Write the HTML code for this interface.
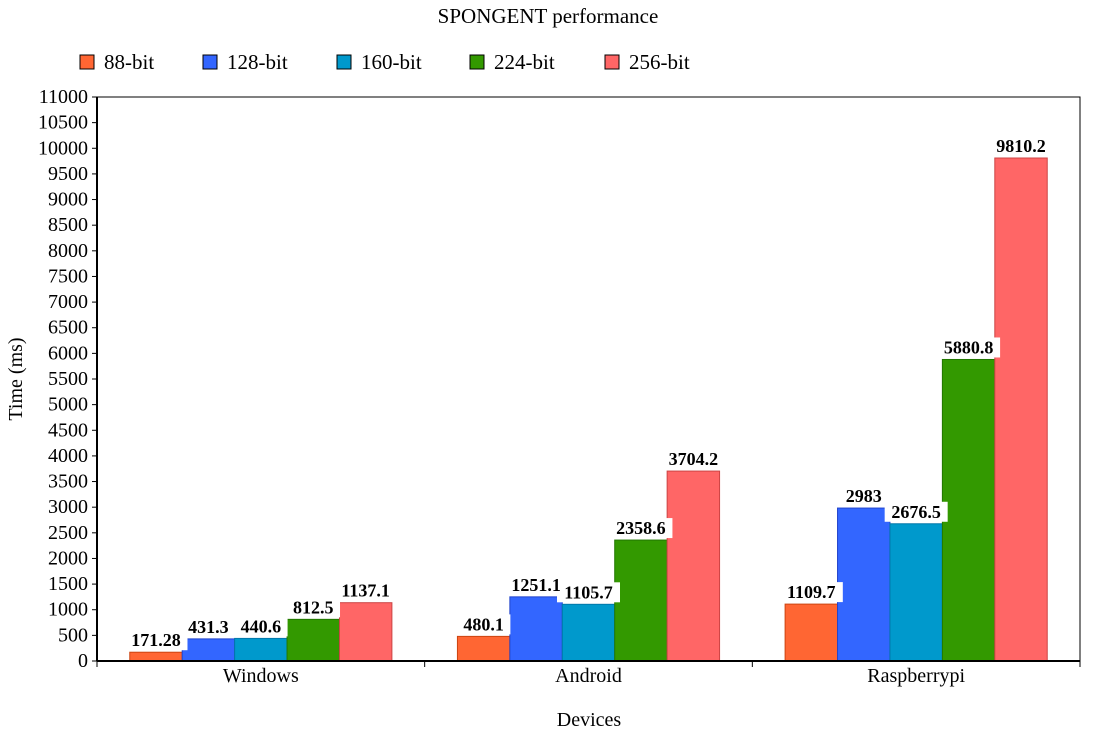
<!DOCTYPE html>
<html><head><meta charset="utf-8"><style>
body{margin:0;background:#fff;}
svg{display:block;font-family:"Liberation Serif",serif;}
</style></head><body>
<svg width="1095" height="744" id="c">
<text x="548" y="23" text-anchor="middle" font-size="21">SPONGENT performance</text>
<g id="legend"></g>
<g id="plot"></g>
<text transform="translate(22,379) rotate(-90)" text-anchor="middle" font-size="20">Time (ms)</text>
<text x="589" y="726" text-anchor="middle" font-size="20">Devices</text>
</svg>
<script>
const categories=["Windows","Android","Raspberrypi"];
const seriesNames=["88-bit","128-bit","160-bit","224-bit","256-bit"];
const s88=[171.28,480.1,1109.7];
const s128=[431.3,1251.1,2983];
const s160=[440.6,1105.7,2676.5];
const s224=[812.5,2358.6,5880.8];
const s256=[1137.1,3704.2,9810.2];
const yTicks=[0,500,1000,1500,2000,2500,3000,3500,4000,4500,5000,5500,6000,6500,7000,7500,8000,8500,9000,9500,10000,10500,11000];
const series=[s88,s128,s160,s224,s256];
const colors=["#ff6633","#3366ff","#0099cc","#339900","#ff6666"];
const strokes=["#cc4411","#2244cc","#0077aa","#227700","#cc4444"];
const NS="http://www.w3.org/2000/svg";
const L=97,R=1080,T=97,B=661,yMax=11000;
const y=v=>B-(v/yMax)*(B-T);
const cw=(R-L)/categories.length, bw=cw*0.8/series.length;
const x=(ci,si)=>L+ci*cw+cw*0.1+si*bw;
function mk(t,a,p){const e=document.createElementNS(NS,t);for(const k in a)e.setAttribute(k,a[k]);p.appendChild(e);return e;}
const plot=document.getElementById('plot');
yTicks.forEach(v=>{
 const t=mk('text',{x:88,y:y(v)+6,'text-anchor':'end','font-size':20},plot);
 
 
 t.textContent=v;
 const l=mk('line',{x1:92,x2:L,y1:y(v),y2:y(v),stroke:'#000'},plot);
 
 
});
series.forEach((s,si)=>s.forEach((v,ci)=>{
 const r=mk('rect',{x:x(ci,si),y:y(v),width:bw,height:B-y(v),fill:colors[si],stroke:strokes[si],'stroke-width':1},plot);
 
 
}));
series.forEach((s,si)=>s.forEach((v,ci)=>{
 const cx=x(ci,si)+bw/2;
 const w=String(v).length*9.5+6;
 const bg=mk('rect',{x:cx-w/2,y:y(v)-22,width:w,height:20,fill:'#fff'},plot);
 
 
}));
series.forEach((s,si)=>s.forEach((v,ci)=>{
 const cx=x(ci,si)+bw/2;
 const t=mk('text',{x:cx,y:y(v)-6,'text-anchor':'middle','font-size':18,'font-weight':'bold'},plot);
 
 
 t.textContent=String(v);
}));
const fr=mk('rect',{x:L,y:T,width:R-L,height:B-T,fill:'none',stroke:'#000','stroke-width':1},plot);


const ax=mk('line',{x1:L,x2:R,y1:B,y2:B,stroke:'#000','stroke-width':2},plot);


const ay=mk('line',{x1:L,x2:L,y1:T,y2:B,stroke:'#000','stroke-width':2},plot);


for(let i=0;i<=categories.length;i++){
 const l=mk('line',{x1:L+i*cw,x2:L+i*cw,y1:B,y2:B+6,stroke:'#000'},plot);
 
 
}
categories.forEach((c,ci)=>{
 const t=mk('text',{x:L+ci*cw+cw/2,y:682,'text-anchor':'middle','font-size':20},plot);
 
 
 t.textContent=c;
});
const lg=document.getElementById('legend');
const lx=[80,203,337,470,605];
seriesNames.forEach((n,i)=>{
 const r=mk('rect',{x:lx[i],y:55,width:14,height:14,fill:colors[i],stroke:'#000'},lg);
 
 
 const t=mk('text',{x:lx[i]+24,y:69,'font-size':21},lg);
 
 
 t.textContent=n;
});
</script>
</body></html>
